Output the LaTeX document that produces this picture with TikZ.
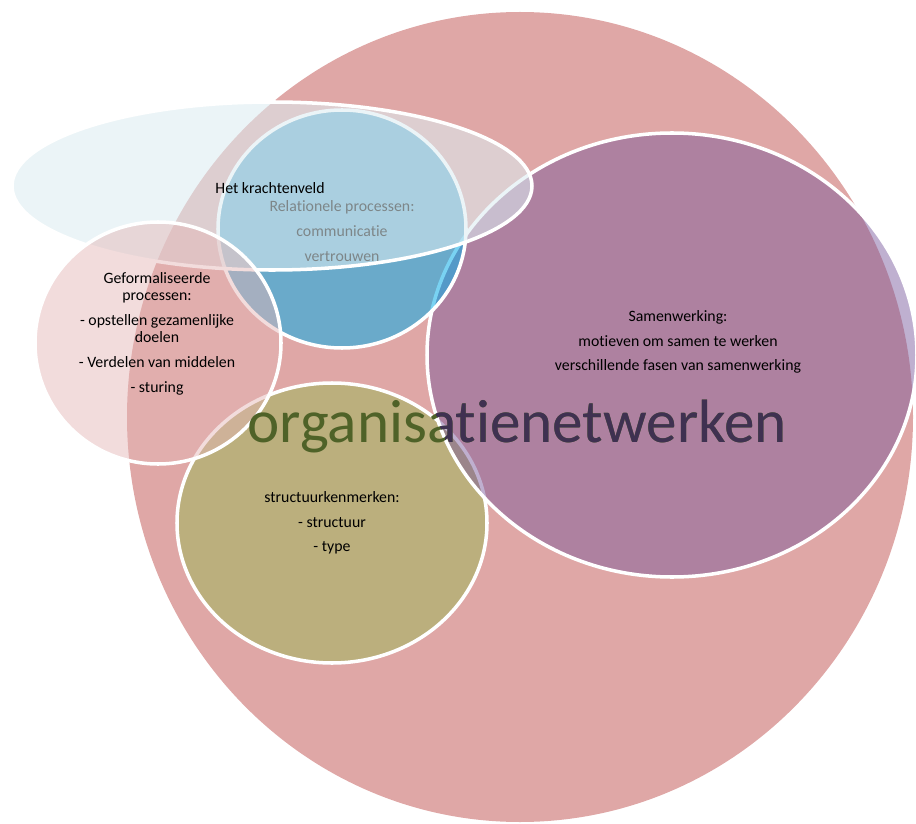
\documentclass[tikz,border=0pt]{standalone}
\usepackage{fontspec}
\setmainfont[Ligatures={NoCommon}]{Carlito}
\usetikzlibrary{positioning}
\definecolor{netpink}{RGB}{223,167,166}
\definecolor{netolive}{RGB}{187,175,125}
\definecolor{netpurple}{RGB}{119,87,155}
\definecolor{netblue}{RGB}{11,174,233}
\definecolor{netsky}{RGB}{220,236,241}
\definecolor{netrose}{RGB}{228,182,182}
\definecolor{netgreen}{RGB}{79,98,40}
\definecolor{netplum}{RGB}{63,49,81}
\tikzset{
  bub/.style={draw=white,line width=2pt},            % white rim of every bubble
  lbl/.style={font=\fontsize{9}{14}\selectfont,align=center,inner sep=0pt},
  lbltight/.style={font=\fontsize{9}{9.6}\selectfont,align=center,inner sep=0pt},
  bigtxt/.style={font=\fontsize{34.8}{40}\selectfont,anchor=base,inner sep=0pt},
}
\begin{document}
\begin{tikzpicture}[x=0.02cm,y=-0.02cm]
  \useasboundingbox (0,0) rectangle (916,824);
  \clip (0,0) rectangle (916,824);
  % centres of the bubbles
  \coordinate (net) at (520,417);
  \coordinate (str) at (332,523);
  \coordinate (sam) at (672,355);
  \coordinate (rel) at (342,229);
  \coordinate (kra) at (272,186);
  \coordinate (gef) at (158,343);
  % bubbles, back to front
  \fill[netpink] (net) ellipse [x radius=393, y radius=405];
  \filldraw[bub,fill=netolive] (str) ellipse [x radius=155, y radius=140];
  \filldraw[bub,fill=netpurple,fill opacity=0.47] (sam) ellipse [x radius=245, y radius=222];
  \filldraw[bub,fill=netblue,fill opacity=0.55] (rel) ellipse [x radius=124, y radius=119];
  \node[lbl] (reltxt) at (342,231) {Relationele processen:\\communicatie\\vertrouwen};
  \filldraw[bub,fill=netsky,fill opacity=0.57] (kra) ellipse [x radius=260, y radius=84];
  \node[lbl] (kratxt) at (270,188) {Het krachtenveld};
  \filldraw[bub,fill=netrose,fill opacity=0.48] (gef) ellipse [x radius=123, y radius=121];
  % labels
  \node[lbltight] (geftxt) at (157,334)
    {Geformaliseerde\\processen:\\[4.6pt]- opstellen gezamenlijke\\doelen\\[4.6pt]- Verdelen van middelen\\[4.6pt]- sturing};
  \node[lbl] (samtxt) at (678,342)
    {Samenwerking:\\motieven om samen te werken\\verschillende fasen van samenwerking};
  \node[lbl] (strtxt) at (332,523) {structuurkenmerken:\\- structuur\\- type};
  % title, plum where it lies on the purple bubble
  \node[bigtxt,text=netgreen] (orga) at (517,442) {organisatienetwerken};
  \begin{scope}
    \clip (sam) ellipse [x radius=245, y radius=222];
    \node[bigtxt,text=netplum] (orgb) at (517,442) {organisatienetwerken};
  \end{scope}
\end{tikzpicture}
\end{document}
